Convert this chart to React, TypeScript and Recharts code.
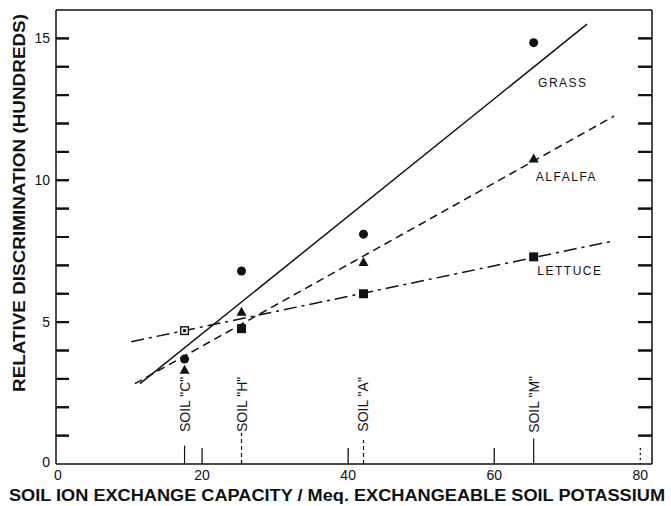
import { ComposedChart, Line, Scatter, XAxis, YAxis, ReferenceLine, ReferenceDot } from "recharts";

// soils along the x axis
const SOIL_NAMES = ['SOIL "C"', 'SOIL "H"', 'SOIL "A"', 'SOIL "M"'];
const SOIL_X = [17.6, 25.4, 42.1, 65.4];

// measured relative discrimination (hundreds)
const GRASS = [3.7, 6.8, 8.1, 14.85];
const ALFALFA = [3.3, 5.35, 7.1, 10.75];
const LETTUCE = [4.7, 4.77, 6.0, 7.3];

// fitted lines, end points
const GRASS_FIT_X = [11.5, 72.7];
const GRASS_FIT_Y = [2.83, 15.5];
const ALFALFA_FIT_X = [10.8, 76.4];
const ALFALFA_FIT_Y = [2.83, 12.26];
const LETTUCE_FIT_X = [10.3, 75.9];
const LETTUCE_FIT_Y = [4.31, 7.84];

const X_TICKS = [0, 20, 40, 60, 80];
const Y_LABELED = [0, 5, 10, 15];
const Y_MINOR = [1, 2, 3, 4, 5, 6, 7, 8, 9, 10, 11, 12, 13, 14, 15];

const X_MAX = 81.6;
const Y_MAX = 16;

const FONT = "'Liberation Sans', Arial, sans-serif";
const INK = "#111";

const pts = (xs: number[], ys: number[]) => xs.map((x, i) => ({ x, y: ys[i] }));

const LeftTick = ({ x, y, payload }: any) => (
  <text x={x - 6} y={payload.value === 0 ? y - 2 : y} textAnchor="end" dominantBaseline="central" fontSize={14} fontFamily={FONT} fill={INK}>
    {payload.value}
  </text>
);

const BottomTick = ({ x, y, payload }: any) => {
  const v = payload.value;
  return (
    <g>
      {v > 0 && (
        <line x1={x} x2={x} y1={y - 16} y2={y} stroke={INK} strokeWidth={1.3} strokeDasharray={v === 80 ? "2 3" : undefined} />
      )}
      <text x={v === 0 ? x + 2 : x} y={y + 11} textAnchor="middle" dominantBaseline="central" fontSize={14} fontFamily={FONT} fill={INK}>
        {v}
      </text>
    </g>
  );
};

// inward tick marks on the left and right frame
const LeftMark = ({ cx, cy }: any) => <rect x={cx} y={cy - 1} width={13} height={2} fill={INK} />;
const RightMark = ({ cx, cy }: any) => <rect x={cx - 14} y={cy - 1} width={14} height={2} fill={INK} />;

const Dot = ({ cx, cy }: any) => <circle cx={cx} cy={cy} r={4.5} fill={INK} />;
const Tri = ({ cx, cy }: any) => (
  <path d={`M${cx},${cy - 5.5} L${cx + 5},${cy + 3.5} L${cx - 5},${cy + 3.5} Z`} fill={INK} />
);
const Sq = ({ cx, cy, index }: any) =>
  index === 0 ? (
    <g>
      <rect x={cx - 3.8} y={cy - 3.8} width={7.6} height={7.6} fill="#fff" stroke={INK} strokeWidth={1.4} />
      <rect x={cx - 1.5} y={cy - 1.5} width={3} height={3} fill={INK} />
    </g>
  ) : (
    <rect x={cx - 4.5} y={cy - 4.5} width={9} height={9} fill={INK} />
  );

// stem under each soil label
const STEMS = [
  { len: 0.65, dash: undefined },
  { len: 1.1, dash: "4 3" },
  { len: 0.85, dash: "4 3" },
  { len: 0.9, dash: undefined },
];

const SoilLabel = (name: string) => ({ cx, cy }: any) => (
  <text
    x={cx}
    y={cy}
    transform={`rotate(-90 ${cx} ${cy})`}
    textAnchor="middle"
    dominantBaseline="central"
    fontSize={14}
    fontFamily={FONT}
    fill={INK}
  >
    {name}
  </text>
);

const SeriesLabel = (name: string) => ({ cx, cy }: any) => (
  <text x={cx} y={cy} dominantBaseline="central" fontSize={12} letterSpacing={1.5} fontFamily={FONT} fill={INK}>
    {name}
  </text>
);

export default function App() {
  return (
    <div style={{ position: "absolute", left: 0, top: 0, background: "#fff" }}>
      <ComposedChart width={671} height={506} margin={{ top: 10, right: 19, bottom: 0, left: 0 }}>
        <XAxis
          dataKey="x"
          type="number"
          domain={[0, X_MAX]}
          ticks={X_TICKS}
          height={42}
          tickSize={0}
          tickMargin={0}
          tickLine={false}
          tick={<BottomTick />}
          axisLine={{ stroke: INK, strokeWidth: 1.5 }}
          label={{
            content: () => (
              <text x={337} y={495} textAnchor="middle" dominantBaseline="central" fontSize={16} fontWeight="bold" fontFamily={FONT} fill={INK} textLength={656} lengthAdjust="spacingAndGlyphs">
                SOIL ION EXCHANGE CAPACITY / Meq. EXCHANGEABLE SOIL POTASSIUM
              </text>
            ),
          }}
        />
        <YAxis
          dataKey="y"
          type="number"
          domain={[0, Y_MAX]}
          ticks={Y_LABELED}
          interval={0}
          width={56}
          tickSize={0}
          tickMargin={0}
          tickLine={false}
          tick={<LeftTick />}
          axisLine={{ stroke: INK, strokeWidth: 1.5 }}
          label={{
            content: () => (
              <text x={19} y={203} transform="rotate(-90 19 203)" textAnchor="middle" dominantBaseline="central" fontSize={16} fontWeight="bold" fontFamily={FONT} fill={INK} textLength={378} lengthAdjust="spacingAndGlyphs">
                RELATIVE DISCRIMINATION (HUNDREDS)
              </text>
            ),
          }}
        />

        {/* top and right frame */}
        <ReferenceLine segment={[{ x: 0, y: Y_MAX }, { x: X_MAX, y: Y_MAX }]} stroke={INK} strokeWidth={1.5} />
        <ReferenceLine segment={[{ x: X_MAX, y: 0 }, { x: X_MAX, y: Y_MAX }]} stroke={INK} strokeWidth={1.5} />

        <Scatter data={Y_MINOR.map((v) => ({ x: 0, y: v }))} dataKey="y" shape={<LeftMark />} isAnimationActive={false} />
        <Scatter data={Y_MINOR.map((v) => ({ x: X_MAX, y: v }))} dataKey="y" shape={<RightMark />} isAnimationActive={false} />
        {Y_MINOR.map((v) => (
          <ReferenceDot key={"lt" + v} x={0} y={v} r={0} shape={LeftMark} />
        ))}
        {Y_MINOR.map((v) => (
          <ReferenceDot key={"rt" + v} x={X_MAX} y={v} r={0} shape={RightMark} />
        ))}

        {SOIL_X.map((sx, i) => (
          <ReferenceLine
            key={"stem" + i}
            segment={[{ x: sx, y: 0 }, { x: sx, y: STEMS[i].len }]}
            stroke={INK}
            strokeWidth={1.2}
            strokeDasharray={STEMS[i].dash}
          />
        ))}
        {SOIL_X.map((sx, i) => (
          <ReferenceDot key={"soil" + i} x={sx} y={2.1} r={0} shape={SoilLabel(SOIL_NAMES[i])} />
        ))}

        <Line data={pts(GRASS_FIT_X, GRASS_FIT_Y)} dataKey="y" type="linear" stroke={INK} strokeWidth={1.5} dot={false} activeDot={false} isAnimationActive={false} />
        <Line data={pts(ALFALFA_FIT_X, ALFALFA_FIT_Y)} dataKey="y" type="linear" stroke={INK} strokeWidth={1.5} strokeDasharray="8 5" dot={false} activeDot={false} isAnimationActive={false} />
        <Line data={pts(LETTUCE_FIT_X, LETTUCE_FIT_Y)} dataKey="y" type="linear" stroke={INK} strokeWidth={1.5} strokeDasharray="13 5 3 5" dot={false} activeDot={false} isAnimationActive={false} />

        <Scatter data={pts(SOIL_X, GRASS)} dataKey="y" shape={<Dot />} isAnimationActive={false} />
        <Scatter data={pts(SOIL_X, ALFALFA)} dataKey="y" shape={<Tri />} isAnimationActive={false} />
        <Scatter data={pts(SOIL_X, LETTUCE)} dataKey="y" shape={<Sq />} isAnimationActive={false} />

        <ReferenceDot x={66} y={13.43} r={0} shape={SeriesLabel("GRASS")} />
        <ReferenceDot x={65.7} y={10.11} r={0} shape={SeriesLabel("ALFALFA")} />
        <ReferenceDot x={65.9} y={6.79} r={0} shape={SeriesLabel("LETTUCE")} />
      </ComposedChart>
    </div>
  );
}
